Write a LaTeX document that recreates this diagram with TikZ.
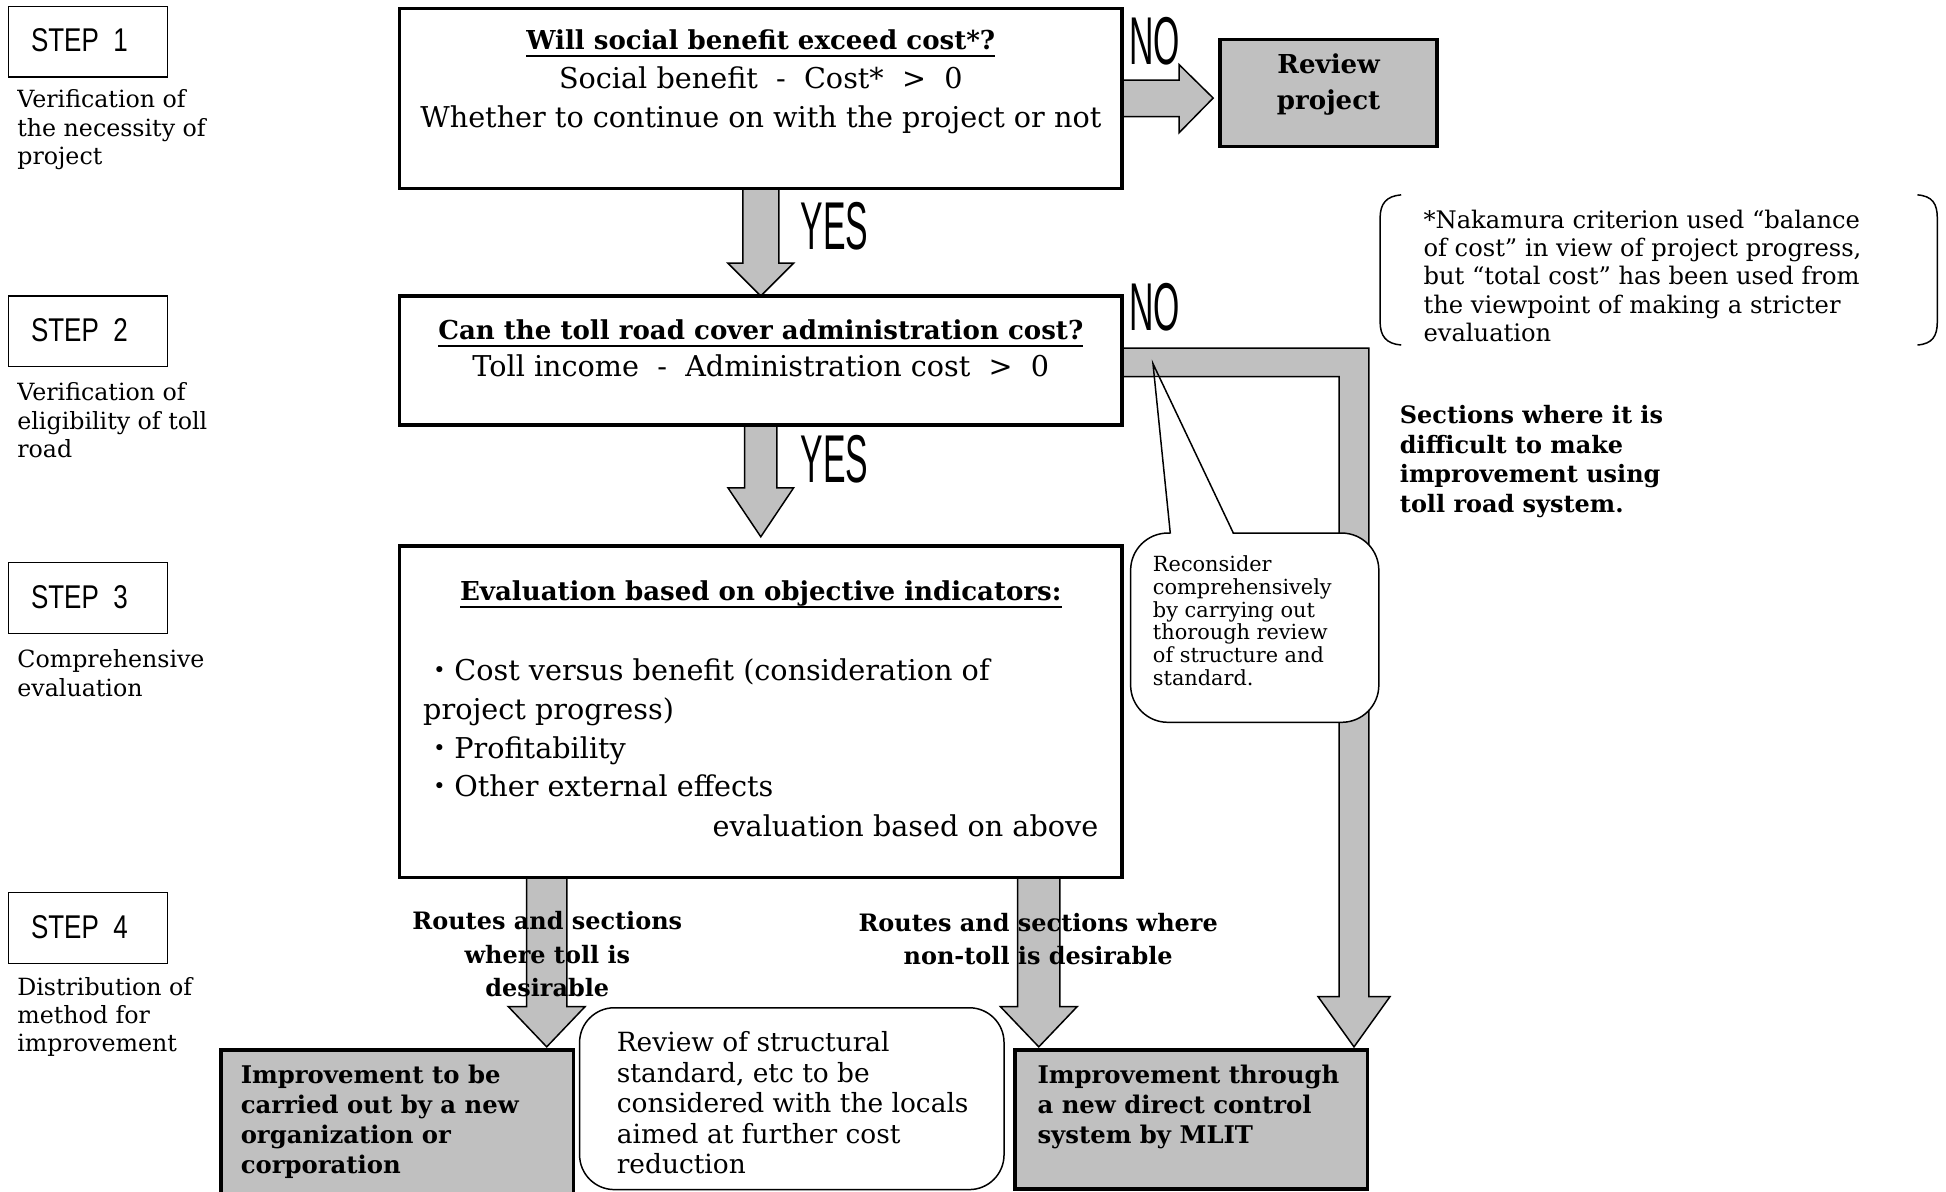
\documentclass[tikz,border=0pt]{standalone}
\usepackage{fontspec}
\usepackage{graphicx}
\setmainfont{DejaVu Serif}
\newfontfamily\gothicfont{Liberation Sans}
\newfontfamily\jpfont{Noto Sans CJK JP}
\usetikzlibrary{calc}
\definecolor{fillgray}{HTML}{C0C0C0}

\newcommand\setfs[2]{\fontsize{#1}{#2}\selectfont}
\newcommand\textlines[2][l]{\begin{tabular}[t]{@{}#1@{}}#2\end{tabular}}
\newcommand\dotmark{{\jpfont ・}}
\newcommand\narrowstep[1]{\scalebox{0.79}[1]{#1}}
\newcommand\narrowanswer[1]{\scalebox{0.5}[1]{#1}}

% gray block arrow pointing down: #1 start (top edge), #2 tip,
% #3 half shaft width, #4 half head width, #5 head length
\newcommand\downarrowblock[5]{%
  \draw[blockarrow] let \p1=(#1), \p2=(#2) in
    (\x2-#3,\y1) -- (\x2-#3,\y2+#5) -- (\x2-#4,\y2+#5) -- (\x2,\y2)
    -- (\x2+#4,\y2+#5) -- (\x2+#3,\y2+#5) -- (\x2+#3,\y1);}

\begin{document}
\begin{tikzpicture}[x=0.5pt,y=-0.5pt,
  mainbox/.style={draw, line width=1.35pt, fill=white, inner sep=0pt, outer sep=0pt},
  graybox/.style={draw, line width=1.4pt, fill=fillgray, inner sep=0pt, outer sep=0pt},
  stepbox/.style={draw, line width=0.55pt, inner sep=0pt, outer sep=0pt,
    minimum width=64pt, minimum height=28.5pt},
  roundbox/.style={draw, line width=0.6pt, fill=white, rounded corners=14pt,
    inner sep=0pt, outer sep=0pt},
  blockarrow/.style={draw, line width=0.6pt, fill=fillgray, line join=miter},
  txt/.style={inner sep=0pt, outer sep=0pt},
  regular/.style={txt, font=\setfs{11.55pt}{15.75pt}},
  title/.style={txt, font=\setfs{10.5pt}{15pt}\bfseries},
  labeltxt/.style={txt, font=\setfs{9.55pt}{11.4pt}},
  steptxt/.style={txt, font=\gothicfont\setfs{13.25pt}{16pt}},
  answer/.style={txt, font=\gothicfont\setfs{27.25pt}{30pt}},
  boldbox/.style={txt, font=\setfs{9.8pt}{12.15pt}\bfseries},
  uline/.style={line width=0.8pt}]

\useasboundingbox (0,0) rectangle (1568,960);
\clip (0,0) rectangle (1568,960);

% ---------- step column ----------
\node[stepbox] (s1) at (71,33.5) {};
\node[stepbox] (s2) at (71,267) {};
\node[stepbox] (s3) at (71,481.75) {};
\node[stepbox] (s4) at (71,747.75) {};
\node[steptxt, anchor=base west] (s1t) at (25,41.6) {\narrowstep{STEP\ \ 1}};
\node[steptxt, anchor=base west] (s2t) at (25,275) {\narrowstep{STEP\ \ 2}};
\node[steptxt, anchor=base west] (s3t) at (25,490) {\narrowstep{STEP\ \ 3}};
\node[steptxt, anchor=base west] (s4t) at (25,756) {\narrowstep{STEP\ \ 4}};
\node[labeltxt, anchor=base west] (s1l) at (14,87) {\textlines{Verification of\\the necessity of\\project}};
\node[labeltxt, anchor=base west] (s2l) at (14,323) {\textlines{Verification of\\eligibility of toll\\road}};
\node[labeltxt, anchor=base west] (s3l) at (14,538) {\textlines{Comprehensive\\evaluation}};
\node[labeltxt, anchor=base west] (s4l) at (14,802) {\textlines{Distribution of\\method for\\improvement}};

% ---------- box geometry ----------
\path (613,79.5) node[mainbox, minimum width=291pt, minimum height=72.5pt] (box1) {};
\path (613,290.5) node[mainbox, minimum width=291pt, minimum height=52pt] (box2) {};
\path (613,573.5) node[mainbox, minimum width=291pt, minimum height=133.5pt] (box3) {};

\coordinate (no1tip) at (977.5,79);
\coordinate (yes2tip) at (613,432.5);
\coordinate (no2tip) at (1091,843.5);
\coordinate (tipL) at (440.5,843.5);
\coordinate (tipM) at (837,843.5);

% ---------- block arrows ----------
\downarrowblock{box1.south}{box2.north}{7.25pt}{13.25pt}{13.25pt}
\downarrowblock{box2.south}{yes2tip}{6.5pt}{13.25pt}{19.75pt}
\downarrowblock{box3.south}{tipL}{8.125pt}{15.5pt}{16.25pt}
\downarrowblock{box3.south}{tipM}{8.5pt}{15.5pt}{16.25pt}
\draw[blockarrow] ([yshift=7.5pt]box1.east) -- (950,64.5) -- (950,52) -- (no1tip)
  -- (950,107) -- (950,94) -- ([yshift=-7.25pt]box1.east);
\draw[blockarrow] ([yshift=5pt]box2.east) -- (1103,280.5) -- (1103,803) -- (1120,803)
  -- (no2tip) -- (1062,803) -- (1079,803) -- (1079,303.5) -- ([yshift=-6.5pt]box2.east);

% redraw the boxes on top of the arrow ends
\path (613,79.5) node[mainbox, minimum width=291pt, minimum height=72.5pt] {};
\path (613,290.5) node[mainbox, minimum width=291pt, minimum height=52pt] {};
\path (613,573.5) node[mainbox, minimum width=291pt, minimum height=133.5pt] {};

\node[graybox, minimum width=87.5pt, minimum height=43pt] (review) at (1070.5,75) {};
\node[graybox, minimum width=142pt, minimum height=60pt] (corp) at (320,906) {};
\node[graybox, minimum width=142pt, minimum height=56pt] (mlit) at (960,902) {};
\node[roundbox, minimum width=171pt, minimum height=73.25pt] (local) at (638,885.25) {};

% ---------- callout ----------
\node[roundbox, rounded corners=15pt, minimum width=100pt, minimum height=76.25pt] (bubble) at (1011,505.75) {};
\fill[white] (943,431.5) -- (930.1,304) -- (934.2,304) -- (994,431.5) -- cycle;
\draw[line width=0.6pt, line join=miter] (943,430) -- (929,293) -- (994,430);
\node[txt, font=\setfs{8.4pt}{9.15pt}, anchor=base west] (callt) at (929,460.6)
  {\textlines{Reconsider\\comprehensively\\by carrying out\\thorough review\\of structure and\\standard.}};

% ---------- footnote in brackets ----------
\draw[line width=0.6pt] (1129,157) .. controls (1117,158) and (1112,164) .. (1112,176)
  -- (1112,259) .. controls (1112,271) and (1117,277) .. (1129,278);
\draw[line width=0.6pt] (1545,157) .. controls (1557,158) and (1561,164) .. (1561,176)
  -- (1561,259) .. controls (1561,271) and (1557,277) .. (1545,278);
\node[txt, font=\setfs{9.75pt}{11.4pt}, anchor=base west] (note) at (1147,184)
  {\textlines{*Nakamura criterion used “balance\\of cost” in view of project progress,\\but “total cost” has been used from\\the viewpoint of making a stricter\\evaluation}};

% ---------- texts in the main boxes ----------
\node[title, anchor=base] (q1) at (613,40) {Will social benefit exceed cost*?};
\draw[uline] ([yshift=-2.7pt]q1.base west) -- ([yshift=-2.7pt]q1.base east);
\node[regular, anchor=base] (q1a) at (613,71) {Social benefit\ \ -\ \ Cost*\ \ >\ \ 0};
\node[regular, anchor=base] (q1b) at (613,102.5) {Whether to continue on with the project or not};

\node[title, anchor=base] (q2) at (613,273.5) {Can the toll road cover administration cost?};
\draw[uline] ([yshift=-2.7pt]q2.base west) -- ([yshift=-2.7pt]q2.base east);
\node[regular, anchor=base] (q2a) at (613,303.5) {Toll income\ \ -\ \ Administration cost\ \ >\ \ 0};

\node[title, anchor=base] (q3) at (613,484) {Evaluation based on objective indicators:};
\draw[uline] ([yshift=-2.7pt]q3.base west) -- ([yshift=-2.7pt]q3.base east);
\node[regular, anchor=base west] (i1) at (343,548) {\dotmark Cost versus benefit (consideration of};
\node[regular, anchor=base west] (i1b) at (341,580) {project progress)};
\node[regular, anchor=base west] (i2) at (343,611) {\dotmark Profitability};
\node[regular, anchor=base west] (i3) at (343,642) {\dotmark Other external effects};
\node[regular, anchor=base east] (i4) at (885,674) {evaluation based on above};

% ---------- YES / NO ----------
\node[answer, anchor=base west] (yes1) at (645,201.4) {\narrowanswer{YES}};
\node[answer, anchor=base west] (yes2) at (645,389) {\narrowanswer{YES}};
\node[answer, anchor=base west] (no1) at (910,52) {\narrowanswer{NO}};
\node[answer, anchor=base west] (no2) at (910,266) {\narrowanswer{NO}};

% ---------- other texts ----------
\node[txt, font=\setfs{10.5pt}{14.5pt}\bfseries, anchor=base] (revt) at (1070.5,59.6)
  {\textlines[c]{Review\\project}};
\node[txt, font=\setfs{9.65pt}{12pt}\bfseries, anchor=base west] (diff) at (1128,341)
  {\textlines{Sections where it is\\difficult to make\\improvement using\\toll road system.}};
\node[txt, font=\setfs{9.65pt}{13.5pt}\bfseries, anchor=base] (tollt) at (441,749)
  {\textlines[c]{Routes and sections\\where toll is\\desirable}};
\node[txt, font=\setfs{9.65pt}{13.5pt}\bfseries, anchor=base] (freet) at (836.5,750.5)
  {\textlines[c]{Routes and sections where\\non-toll is desirable}};
\node[boldbox, anchor=base west] (corpt) at (194,873)
  {\textlines{Improvement to be\\carried out by a new\\organization or\\corporation}};
\node[boldbox, anchor=base west] (mlitt) at (836,873)
  {\textlines{Improvement through\\a new direct control\\system by MLIT}};
\node[txt, font=\setfs{10.65pt}{12.3pt}, anchor=base west] (localt) at (497,847.5)
  {\textlines{Review of structural\\standard, etc to be\\considered with the locals\\aimed at further cost\\reduction}};

\end{tikzpicture}
\end{document}
